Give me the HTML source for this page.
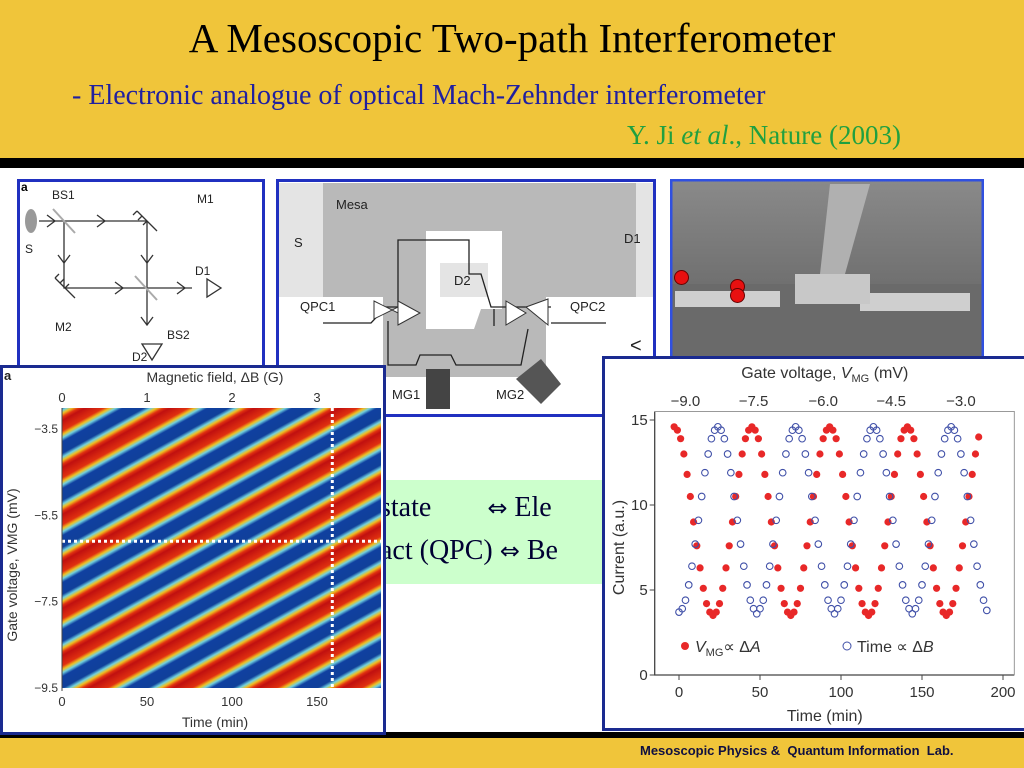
<!DOCTYPE html>
<html><head><meta charset="utf-8"><style>
body{margin:0;width:1024px;height:768px;overflow:hidden;background:#fff;font-family:"Liberation Sans",sans-serif;position:relative}
.abs{position:absolute}
.serif{font-family:"Liberation Serif",serif}
</style></head><body>
<div class="abs" style="left:0;top:0;width:1024px;height:158px;background:#f0c53a"></div>
<div class="abs" style="left:0;top:158px;width:1024px;height:10px;background:#000"></div>
<div class="abs serif" style="left:0;top:14px;width:1024px;text-align:center;font-size:41px;color:#000">A Mesoscopic Two-path Interferometer</div>
<div class="abs serif" style="left:72px;top:80px;font-size:28px;color:#2020a0">- Electronic analogue of optical Mach-Zehnder interferometer</div>
<div class="abs serif" style="left:627px;top:120px;font-size:27px;color:#20a040">Y. Ji <i>et al</i>., Nature (2003)</div>
<div class="abs" style="left:0;top:732px;width:1024px;height:6px;background:#000"></div>
<div class="abs" style="left:0;top:738px;width:1024px;height:30px;background:#f0c53a"></div>
<div class="abs" style="left:640px;top:743px;font-size:13px;font-weight:bold;color:#101040">Mesoscopic Physics &amp;&nbsp; Quantum Information&nbsp; Lab.</div>

<div class="abs serif" style="left:340px;top:480px;width:270px;height:104px;background:#ccffcc;font-size:28px;color:#000033">
<div style="position:absolute;left:40px;top:12px;white-space:nowrap">state&nbsp;&nbsp;&nbsp;&nbsp;&nbsp;&nbsp;&nbsp;&nbsp;<span style="font-family:'DejaVu Sans';font-size:24px">⇔</span> Ele</div>
<div style="position:absolute;left:40px;top:55px;white-space:nowrap">act (QPC) <span style="font-family:'DejaVu Sans';font-size:24px">⇔</span> Be</div>
</div>

<svg class="abs" style="left:17px;top:179px" width="248" height="194">
<rect x="1.5" y="1.5" width="245" height="191" fill="#fff" stroke="#2030c0" stroke-width="3"/>
<g stroke="#333" stroke-width="1.3" fill="none">
<path d="M22 42H130M47 42V109H175M130 42V146"/>
<path d="M30 36l8 6-8 6M80 36l8 6-8 6M98 103l8 6-8 6M41 76l6 8 6-8M124 76l6 8 6-8M124 138l6 8 6-8M160 103l8 6-8 6"/>
<path d="M120 32l20 20M38 99l20 20M120 32l-4 4M125 37l-4 4M130 42l-4 4M38 99l4-4M43 104l4-4M48 109l4-4"/>
<path d="M190 100v18l14-9zM125 165l10 16 10-16z"/>
</g>
<path d="M36 30l22 24M118 97l22 24" stroke="#aaa" stroke-width="2"/>
<ellipse cx="14" cy="42" rx="6" ry="12" fill="#999"/>
<text x="4" y="12" font-size="12" font-weight="bold" font-family="Liberation Sans">a</text>
<g font-size="12" font-family="Liberation Sans" fill="#222">
<text x="35" y="20">BS1</text><text x="180" y="24">M1</text><text x="8" y="74">S</text><text x="178" y="96">D1</text><text x="38" y="152">M2</text><text x="150" y="160">BS2</text><text x="115" y="182">D2</text></g>
</svg>

<svg class="abs" style="left:276px;top:179px" width="380" height="238">
<rect x="1.5" y="1.5" width="377" height="235" fill="#fff" stroke="#2030c0" stroke-width="3"/>
<rect x="3" y="4" width="44" height="114" fill="#e4e4e4"/>
<rect x="360" y="4" width="17" height="114" fill="#e4e4e4"/>
<rect x="47" y="4" width="313" height="114" fill="#b9b9b9"/>
<path d="M107 118H270V198H107z" fill="#b9b9b9"/>
<path d="M150 52H226V130H205L198 150H150z" fill="#fff"/>
<rect x="164" y="84" width="48" height="34" fill="#e4e4e4"/>
<g stroke="#222" stroke-width="1.3" fill="none">
<path d="M47 144H95L110 128H122M122 128V61H168M168 61H193V95H205L215 128H275M275 144H330"/>
<path d="M112 142V186H140L144 176H175L180 186H245L252 150"/>
<path d="M218 147V130"/>
</g>
<g fill="#fff" stroke="#333"><path d="M98 122l24 12v-6l-24 12zM122 122l22 12-22 12z"/><path d="M230 122l20 12-20 12zM250 128l22-8v26z"/></g>
<rect x="150" y="190" width="24" height="40" fill="#444"/><path d="M240 200l25-20 20 25-20 20z" fill="#555"/>
<g font-size="13" font-family="Liberation Sans" fill="#222"><text x="60" y="30">Mesa</text><text x="18" y="68">S</text><text x="348" y="64">D1</text><text x="178" y="106">D2</text><text x="24" y="132">QPC1</text><text x="294" y="132">QPC2</text><text x="116" y="220">MG1</text><text x="220" y="220">MG2</text></g>
</svg>

<svg class="abs" style="left:670px;top:179px" width="314" height="194">
<defs><linearGradient id="semg" x1="0" y1="0" x2="0" y2="1"><stop offset="0" stop-color="#8a8a8a"/><stop offset="1" stop-color="#5a5a5a"/></linearGradient></defs>
<rect x="0" y="0" width="314" height="194" fill="url(#semg)"/>
<rect x="0" y="105" width="314" height="89" fill="#6a6a6a"/>
<path d="M5 112H110V128H5zM190 114H300V132H190z" fill="#cfcfcf"/>
<path d="M160 5L200 5 175 95 150 95z" fill="#b0b0b0"/>
<path d="M125 95H200V125H125z" fill="#c8c8c8"/>
<rect x="0" y="0" width="314" height="194" fill="none" stroke="#3050e0" stroke-width="5"/>
</svg>
<div class="abs" style="left:674px;top:270px;width:13px;height:13px;border-radius:50%;background:#e81010;border:1px solid #600"></div>
<div class="abs" style="left:730px;top:279px;width:13px;height:13px;border-radius:50%;background:#e81010;border:1px solid #600"></div>
<div class="abs" style="left:730px;top:288px;width:13px;height:13px;border-radius:50%;background:#e81010;border:1px solid #600"></div>
<div class="abs" style="left:630px;top:335px;font-size:20px;color:#222">&lt;</div>

<svg class="abs" style="left:0;top:365px" width="387" height="370">
<defs>
<linearGradient id="sg" x1="0" y1="0" x2="0" y2="1">
<stop offset="0" stop-color="#c01010"/><stop offset="0.22" stop-color="#e03010"/><stop offset="0.3" stop-color="#f0c020"/><stop offset="0.37" stop-color="#70d0e0"/><stop offset="0.45" stop-color="#1040a0"/><stop offset="0.7" stop-color="#10409a"/><stop offset="0.78" stop-color="#70d0e0"/><stop offset="0.85" stop-color="#f0c020"/><stop offset="0.93" stop-color="#e03010"/><stop offset="1" stop-color="#c01010"/></linearGradient>
<pattern id="stripe" patternUnits="userSpaceOnUse" x="0" y="43" width="47" height="47" patternTransform="skewY(-29)"><rect width="47" height="47" fill="url(#sg)"/></pattern>
</defs>
<rect x="1.5" y="1.5" width="383" height="367" fill="#fff" stroke="#1a2a90" stroke-width="3"/>
<g id="hm"></g>
</svg>

<svg class="abs" style="left:602px;top:356px" width="422" height="375">
<rect x="1.5" y="1.5" width="422" height="372" fill="#fff" stroke="#1a2a90" stroke-width="3"/>
<g id="lc"></g>
</svg>

<script>
const redStart = -3, redStep = 2;
const redValues = [14.6,14.4,13.9,13.0,11.8,10.5,9.0,7.6,6.3,5.1,4.2,3.7,3.5,3.7,4.2,5.1,6.3,7.6,9.0,10.5,11.8,13.0,13.9,14.4,
14.6,14.4,13.9,13.0,11.8,10.5,9.0,7.6,6.3,5.1,4.2,3.7,3.5,3.7,4.2,5.1,6.3,7.6,9.0,10.5,11.8,13.0,13.9,14.4,
14.6,14.4,13.9,13.0,11.8,10.5,9.0,7.6,6.3,5.1,4.2,3.7,3.5,3.7,4.2,5.1,6.3,7.6,9.0,10.5,11.8,13.0,13.9,14.4,
14.6,14.4,13.9,13.0,11.8,10.5,9.0,7.6,6.3,5.1,4.2,3.7,3.5,3.7,4.2,5.1,6.3,7.6,9.0,10.5,11.8,13.0,14.0];
const blueStart = 0, blueStep = 2;
const blueValues = [3.7,3.9,4.4,5.3,6.4,7.7,9.1,10.5,11.9,13.0,13.9,14.4,14.6,14.4,13.9,13.0,11.9,10.5,9.1,7.7,6.4,5.3,4.4,3.9,
3.6,3.9,4.4,5.3,6.4,7.7,9.1,10.5,11.9,13.0,13.9,14.4,14.6,14.4,13.9,13.0,11.9,10.5,9.1,7.7,6.4,5.3,4.4,3.9,
3.6,3.9,4.4,5.3,6.4,7.7,9.1,10.5,11.9,13.0,13.9,14.4,14.6,14.4,13.9,13.0,11.9,10.5,9.1,7.7,6.4,5.3,4.4,3.9,
3.6,3.9,4.4,5.3,6.4,7.7,9.1,10.5,11.9,13.0,13.9,14.4,14.6,14.4,13.9,13.0,11.9,10.5,9.1,7.7,6.4,5.3,4.4,3.8];
const xTicks = [0,50,100,150,200];
const yTicks = [0,5,10,15];
const topTicks = ["−9.0","−7.5","−6.0","−4.5","−3.0"];
const topTickTimes = [4,46,89,131,174];

const hmTimeTicks = [0,50,100,150];
const hmFieldTicks = [0,1,2,3];
const hmVoltTicks = [-3.5,-5.5,-7.5,-9.5];

const NS="http://www.w3.org/2000/svg";
function mk(parent,tag,attrs,text){const e=document.createElementNS(NS,tag);for(const k in attrs)e.setAttribute(k,attrs[k]);if(text!==undefined)e.textContent=text;parent.appendChild(e);return e;}

(function(){
const g=document.getElementById('lc');
const X=t=>77+(t-0)*(324/200), Y=v=>319-v*(255/15);
const ax=mk(g,'path',{d:`M${X(-15)} ${Y(15.5)}V${Y(0)}H${X(207)}`,stroke:'#444',fill:'none','stroke-width':1.3});


mk(g,'path',{d:`M${X(-15)} ${Y(15.5)}H${X(207)}V${Y(0)}`,stroke:'#999',fill:'none','stroke-width':1});
xTicks.forEach(t=>{mk(g,'line',{x1:X(t),x2:X(t),y1:Y(0),y2:Y(0)+5,stroke:'#444'});
const l=mk(g,'text',{x:X(t),y:Y(0)+22,'text-anchor':'middle','font-size':15,fill:'#333'},t);

});
yTicks.forEach(v=>{mk(g,'line',{x1:X(-15),x2:X(-15)-5,y1:Y(v),y2:Y(v),stroke:'#444'});
const l=mk(g,'text',{x:X(-15)-7,y:Y(v)+5,'text-anchor':'end','font-size':15,fill:'#333'},v);

});
topTicks.forEach((s,i)=>{const l=mk(g,'text',{x:X(topTickTimes[i]),y:50,'text-anchor':'middle','font-size':15,fill:'#333'},s);

});
const xt=mk(g,'text',{x:X(90),y:365,'text-anchor':'middle','font-size':16,fill:'#333'},'Time (min)');


const tt=mk(g,'text',{x:X(90),y:22,'text-anchor':'middle','font-size':16,fill:'#333'});
tt.innerHTML='Gate voltage, <tspan font-style="italic">V</tspan><tspan font-size="11" dy="4">MG</tspan><tspan dy="-4">  (mV)</tspan>';


const yt=mk(g,'text',{x:0,y:0,transform:`translate(22 ${Y(7.5)}) rotate(-90)`,'text-anchor':'middle','font-size':16,fill:'#333'},'Current (a.u.)');


redValues.forEach((v,i)=>{const c=mk(g,'circle',{cx:X(redStart+i*redStep),cy:Y(v),r:3.6,fill:'#e82828'});

});
blueValues.forEach((v,i)=>{const c=mk(g,'circle',{cx:X(blueStart+i*blueStep),cy:Y(v),r:3.3,fill:'none',stroke:'#4050a8','stroke-width':1.1});

});
const lr=mk(g,'circle',{cx:83,cy:290,r:4,fill:'#e82828'});


const lrt=mk(g,'text',{x:93,y:296,'font-size':16,fill:'#333'});
lrt.innerHTML='<tspan font-style="italic">V</tspan><tspan font-size="11" dy="4">MG</tspan><tspan dy="-4">∝ Δ</tspan><tspan font-style="italic">A</tspan>';


const lb=mk(g,'circle',{cx:245,cy:290,r:4,fill:'none',stroke:'#4050a8'});


const lbt=mk(g,'text',{x:255,y:296,'font-size':16,fill:'#333'});
lbt.innerHTML='Time ∝ Δ<tspan font-style="italic">B</tspan>';


})();

(function(){
const g=document.getElementById('hm');
const X=t=>62+t*(255/150), Y=v=>(429-365)+(-3.5-v)*(259/6);
const top=408-365, bot=688-365;
const r=mk(g,'rect',{x:62,y:top,width:319,height:bot-top,fill:'url(#stripe)'});


mk(g,'line',{x1:X(159),x2:X(159),y1:top,y2:bot,stroke:'#fff','stroke-width':3,'stroke-dasharray':'3 3'});
mk(g,'line',{x1:62,x2:381,y1:Y(-6.1),y2:Y(-6.1),stroke:'#fff','stroke-width':3,'stroke-dasharray':'3 3'});
mk(g,'line',{x1:62,x2:62,y1:top,y2:bot+3,stroke:'#444'});
hmTimeTicks.forEach(t=>{const l=mk(g,'text',{x:X(t),y:bot+18,'text-anchor':'middle','font-size':13,fill:'#333'},t);

});
hmFieldTicks.forEach(b=>{const l=mk(g,'text',{x:X(b*50),y:top-6,'text-anchor':'middle','font-size':13,fill:'#333'},b);

});
hmVoltTicks.forEach(v=>{const l=mk(g,'text',{x:58,y:Y(v)+4,'text-anchor':'end','font-size':12,fill:'#333'},String(v).replace('-','−'));

});
const a=mk(g,'text',{x:4,y:15,'font-size':13,'font-weight':'bold',fill:'#222'},'a');


const t1=mk(g,'text',{x:215,y:17,'text-anchor':'middle','font-size':14,fill:'#333'},'Magnetic field, ΔB (G)');


const t2=mk(g,'text',{x:215,y:362,'text-anchor':'middle','font-size':14,fill:'#333'},'Time (min)');


const t3=mk(g,'text',{x:0,y:0,transform:'translate(17 200) rotate(-90)','text-anchor':'middle','font-size':14,fill:'#333'},'Gate voltage, VMG (mV)');


})();
</script>
</body></html>
